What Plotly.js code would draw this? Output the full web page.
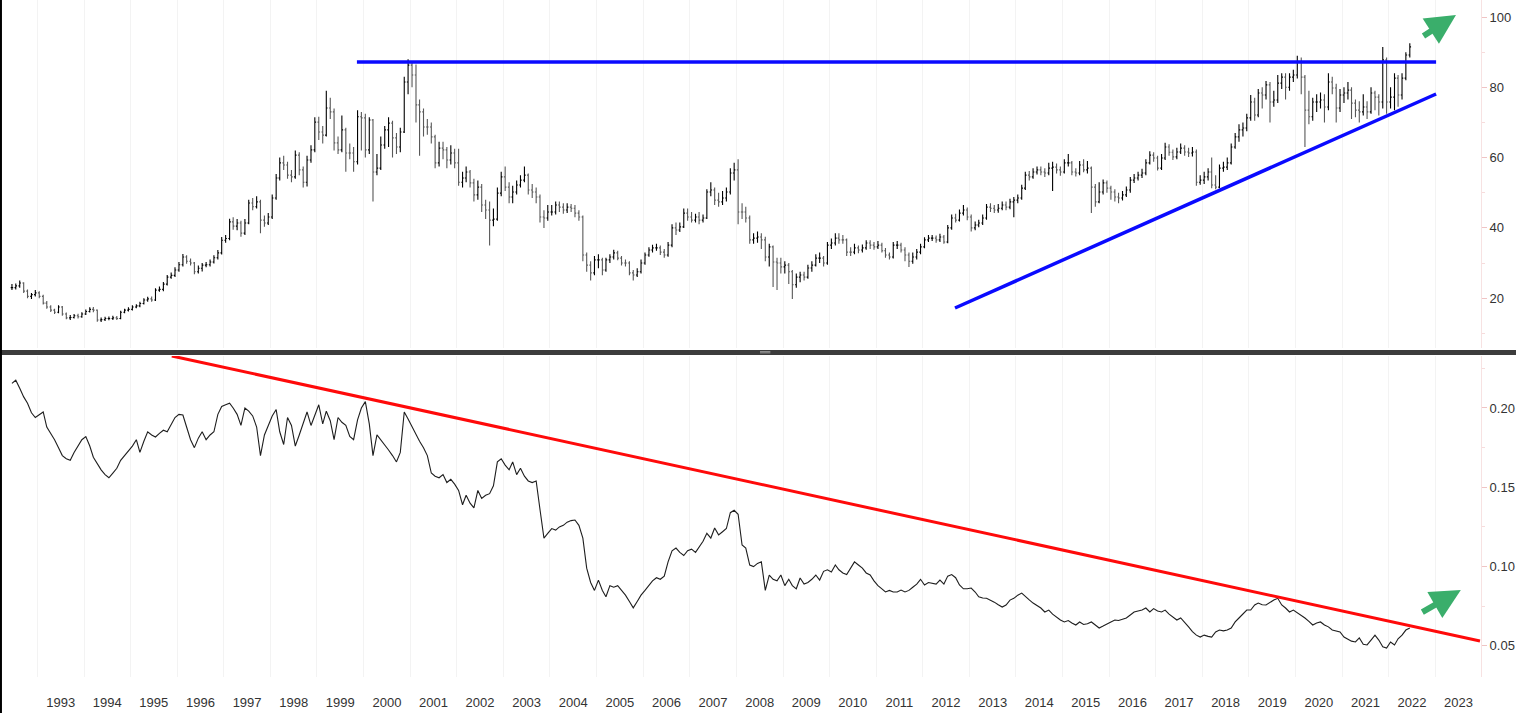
<!DOCTYPE html>
<html>
<head>
<meta charset="utf-8">
<script src="https://cdn.plot.ly/plotly-3.0.1.min.js"></script>
<style>
html,body{margin:0;padding:0;background:#fff;}
#chart{width:1516px;height:713px;}
</style>
</head>
<body>
<div id="chart"></div>
<script>
// monthly bars, first bar = June 1992
let firstYear = 1992;
let firstMonth = 6;

let closes = [
23, 23.5, 24.3, 22, 20.5, 21, 21.5,
20.5, 18.6, 17.5, 16.6, 16, 17.5, 15.5, 14.4, 14.5, 15, 14.7, 15.5,
16.2, 16.8, 16.6, 13.8, 13.9, 14.2, 14.2, 14.4, 14.2, 16, 16.6, 16.8,
17.5, 17.8, 18.5, 19.5, 19.8, 19.5, 22.3, 22.5, 24, 26, 26.5, 28,
29.5, 31.7, 30.5, 30, 27.5, 28.5, 29.4, 29.5, 30.3, 31.5, 32.9, 36.5,
37, 41.7, 40.5, 41.4, 38.5, 41.4, 47.1, 46, 47.4, 42.2, 41.4, 43.1,
48.5, 54.2, 58.5, 57.9, 55, 54.5, 60.7, 56.5, 53, 59.3, 62.2, 70.1,
67.3, 66.4, 74.1, 73, 64.2, 62.2, 67.9, 61.3, 61.3, 58.8, 71.6, 71.3,
62.2, 70.7, 55.9, 57, 63.6, 67.9, 69.8, 65.6, 63, 67.3, 81.5, 86.3,
83.5, 75, 73, 68.7, 68.7, 65.9, 58.5, 62.7, 62.2, 59.3, 61.3, 58.5,
53, 54.2, 55.9, 52.8, 49.4, 51.6, 46.5, 45.1, 42.2, 42.5, 49.9, 54.5,
51.6, 48.8, 50.2, 52.2, 53.6, 55, 50.8, 50.2, 48.8, 43.1, 42.8, 44.5,
44.5, 46.5, 45.9, 45.1, 45.9, 45.6, 44.2, 43.1, 32.3, 29.4, 27.2, 30.9,
30.9, 28, 30.9, 31.7, 32.9, 31.4, 30, 30, 27.2, 26.6, 27.5, 30,
32.3, 33.7, 34.3, 34.3, 33.1, 32.3, 35.1, 40, 39.4, 40.3, 44.2, 43.1,
42.2, 43.1, 42.2, 42.8, 50.2, 50.8, 47.9, 47.4, 48.5, 50.2, 55.6, 56.5,
44.5, 44.5, 42.8, 36.6, 37.1, 37.4, 36.6, 31.7, 34.6, 30.3, 30, 28.9,
29.4, 27.5, 23.8, 26, 26.6, 26, 28.6, 29.4, 31.4, 31.4, 30, 35.1,
35.7, 37.1, 36.6, 36.6, 33.1, 33.1, 34.3, 33.7, 34.3, 35.7, 35.1, 34.6,
35.1, 33.5, 32.3, 31.7, 35.1, 35.1, 33.7, 32.3, 30.5, 31.7, 33.1, 34.6,
36.6, 37.1, 37.1, 36.6, 37.4, 36, 40, 42.8, 42.2, 44.2, 45.1, 43.1,
40, 40.8, 41.4, 42.8, 45.9, 45.6, 45.1, 45.6, 46.5, 45.9, 47.4, 47.9,
48.5, 51.3, 55, 54.5, 55.9, 56.5, 55.9, 55.6, 57, 57.3, 56.5, 55.9,
58.5, 58.5, 55.9, 55.6, 57.9, 56.5, 57, 51.6, 47.4, 50.2, 52.8, 51.3,
50.2, 48.8, 48.5, 49.4, 50.8, 53.6, 54.2, 55, 55.6, 58.5, 60.7, 59.9,
57, 59.9, 63, 61.5, 60.2, 61.6, 62.7, 61.6, 61.3, 61.6, 53, 53.6,
54.5, 55.9, 52.2, 51.6, 57, 57.3, 58.5, 63, 65.9, 67.9, 68.4, 71.3,
75.8, 72.1, 78.4, 77.8, 80.7, 75.8, 76.4, 81.2, 82.9, 80, 82.9, 83.5,
87.2, 82.9, 73.5, 71.6, 75.8, 75.8, 76.4, 74.4, 81.5, 79.8, 74.1, 77.8,
78.4, 79.2, 75.5, 73.5, 73, 74.4, 73, 78.4, 77.2, 75.8, 87.8, 75.8,
77.2, 82.6, 77.8, 82.6, 89.2, 91.5
];

let highs = [
24, 24.2, 25, 24.5, 22.5, 21.5, 22.3,
22, 21, 19.2, 18, 17, 18, 17.8, 15.9, 15.2, 15.5, 15.6, 16,
16.8, 17.4, 17.5, 16.8, 14.5, 14.7, 14.8, 15, 14.9, 16.4, 17, 17.4,
18, 18.3, 19, 20, 20.4, 20.5, 22.8, 23.3, 24.6, 26.6, 27.3, 28.8,
30.3, 32.6, 32.2, 31.3, 30.3, 29.3, 30, 30.3, 31, 32.2, 33.7, 37.4,
38, 42.6, 43, 42.5, 42, 42.5, 48, 48.5, 49, 48, 43.5, 44.2,
49.5, 55.3, 60, 60.5, 58.8, 56.5, 62, 61.5, 57.5, 60.5, 63.5, 71.5,
71.6, 69, 79, 77, 74, 66, 72, 68.5, 64, 63, 73.5, 73,
72.5, 71.5, 71, 61, 66, 69, 71.5, 70.5, 67, 68.5, 83, 88,
87.5, 86.5, 76.5, 74, 71, 70, 66.5, 64.5, 64.5, 63, 63.5, 62.5,
62.5, 56, 57.5, 56.5, 54, 53.5, 52.5, 48, 47.5, 45.5, 51.5, 56,
57.5, 53, 52, 53.5, 55, 57.5, 55.5, 52.5, 51.5, 49.5, 45, 46.5,
46.5, 47.5, 47.5, 47, 47, 46.8, 46.5, 45, 43.5, 33, 30.5, 32,
32.5, 31.5, 31.5, 32.5, 33.8, 33.5, 32, 31, 30.5, 28, 28.5, 31,
33, 34.5, 35.2, 35.5, 35, 34, 36, 41, 41.5, 41.5, 45.5, 45.5,
44.5, 44, 44.5, 43.8, 51, 53, 51.5, 50, 50.5, 51.5, 57, 58.5,
59.5, 47, 46, 43.5, 38.5, 39, 38.5, 37.5, 35.5, 35, 31.5, 31.5,
30.5, 30, 28, 27, 27.5, 27.5, 29.5, 30.5, 32.5, 33, 32, 36,
37, 38.5, 38.5, 38, 37, 34.5, 35.5, 35, 35.3, 36.5, 36.5, 36,
36.3, 35.8, 34.3, 33, 36, 36.3, 35.8, 34.5, 33, 33, 34, 35.5,
37.3, 38, 38, 37.8, 38.3, 38, 40.8, 43.8, 44, 45.2, 46.5, 45.8,
43.8, 41.8, 42.3, 43.8, 46.8, 47, 46.5, 46.8, 47.5, 47.5, 48.3, 48.8,
49.5, 52.3, 56, 56.2, 57, 57.5, 57.5, 57, 58.5, 58.8, 58.3, 57.5,
59.5, 61, 59, 57, 59, 59.5, 59, 57.5, 52.5, 53, 53.8, 53.5,
52, 51, 50, 50.5, 51.8, 54.5, 55.3, 56, 56.8, 59.5, 61.8, 61.5,
60.5, 61, 64.2, 63.8, 62.3, 62.8, 64, 63.5, 62.8, 63, 62.3, 55,
56, 57, 60, 55, 58, 58.8, 60, 64, 67, 69.5, 70, 72.5,
77.8, 77, 79.5, 80, 81.8, 81.5, 79, 83.5, 84, 84, 84, 85,
89, 88.5, 83.5, 79, 77, 78, 78.5, 78, 84, 83, 81, 79.5,
80, 81.5, 80, 76.5, 76, 78, 76, 80, 79, 78, 91.5, 88.5,
80, 84, 83.5, 84, 90, 92.5
];

let lows = [
22.3, 22.5, 23, 21.5, 20, 19.8, 20.5,
20, 18.2, 17, 16.1, 15.5, 15.7, 15, 14, 13.8, 14.2, 14.2, 14.4,
15.2, 15.9, 16, 13.3, 13.2, 13.5, 13.7, 13.8, 13.8, 14, 15.7, 16.2,
16.5, 17.1, 17.4, 18.2, 19, 19, 19.2, 21.8, 22, 23.6, 25.5, 26,
27.5, 29, 29.8, 29.3, 26.8, 27, 27.6, 28.8, 29, 29.9, 31, 32.4,
35.8, 36.5, 39.5, 39.3, 37.5, 38, 41, 45, 45.5, 38.5, 40.3, 40.8,
42.5, 48, 53.5, 56.5, 54, 53, 54, 55, 51.5, 51.8, 58.5, 61.5,
65, 64, 66, 71, 62, 61, 61.5, 56, 59.5, 56, 58, 62,
60, 61, 47.5, 55, 56.5, 62.5, 63, 60, 61, 61.5, 67, 78,
80, 70, 60.5, 66, 66.5, 64, 57, 57.5, 59.5, 57, 58, 57,
52, 51.5, 53, 51.5, 47.5, 48, 44.5, 42.5, 35, 40.5, 42, 49,
50.5, 47, 47, 49.5, 51.5, 53, 49.5, 48.5, 47, 41.5, 40, 42,
43.5, 43.8, 44.5, 44, 44.2, 44.5, 43, 42, 30.5, 27.5, 25, 26.5,
28.5, 26.5, 27.5, 30, 31, 30.8, 29.3, 29, 26.5, 25, 26, 27,
29.5, 31.8, 33, 33.5, 32.3, 31.5, 31.8, 34.5, 38, 38.8, 40, 42,
41.5, 41.5, 41, 41.5, 42.5, 49, 46.5, 46, 46.5, 47.5, 49.5, 53.5,
41, 42.5, 41.5, 35.5, 35.5, 35.8, 34, 30.5, 29, 23.2, 22.3, 27,
27, 24, 19.8, 23, 24.5, 25, 25.5, 27.5, 29, 30, 29, 29.5,
34, 35, 35.5, 35.5, 32, 32, 32.5, 32.8, 33, 33.8, 34, 33.8,
34, 33, 31.5, 31, 31.3, 34, 33, 30.5, 28.9, 29.8, 31, 32.5,
34.2, 36, 36.3, 35.8, 36, 35.5, 35.6, 39.5, 41.5, 41.8, 43.5, 42.2,
39, 39.3, 40.2, 40.8, 42.3, 44.5, 44.2, 44.3, 45, 45, 45.3, 43,
47, 48, 50.8, 53.5, 54, 55.2, 55, 54.5, 55, 50.5, 55.5, 54.8,
55.5, 57.5, 55, 54.6, 55, 55.8, 55.5, 44.2, 46, 47, 49.5, 50,
48, 47.5, 47, 47.8, 48.8, 50, 52.8, 53.5, 54.2, 55, 58, 58.8,
56.3, 56.5, 59.3, 60.5, 59.3, 59.5, 61, 60.5, 60.2, 60.3, 52, 52.3,
52.5, 53.5, 51.3, 51, 51.3, 56, 56.5, 58, 62.5, 64.5, 66, 67.5,
70.5, 70.5, 71.5, 74, 76.5, 70, 74.5, 75.5, 79.5, 76.5, 79, 81.5,
82.5, 78, 63, 69.5, 70.5, 73, 74, 70, 73.5, 78, 70, 73,
75.5, 76.5, 71, 71.5, 70, 72, 71, 72.5, 73.5, 72, 74, 72.5,
74, 73.5, 74.5, 76.5, 82, 88.5
];

let ratio = [
.2155, .2175, .2125, .207, .203, .197, .194,
.196, .1975, .188, .184, .18, .175, .170, .168, .167, .172, .176, .180,
.182, .176, .169, .165, .161, .158, .156, .159, .162, .167, .170, .173,
.176, .180, .172, .179, .185, .183, .1817, .184, .186, .185, .190, .194,
.196, .1956, .188, .180, .175, .181, .185, .180, .183, .185, .196, .201,
.202, .203, .200, .196, .189, .200, .198, .195, .188, .170, .183, .189,
.195, .199, .185, .177, .194, .189, .176, .183, .190, .1975, .189, .195,
.202, .190, .198, .192, .180, .194, .191, .189, .182, .180, .1925, .200,
.204, .190, .170, .183, .180, .177, .1735, .170, .166, .172, .1975, .193,
.188, .184, .179, .175, .170, .159, .157, .156, .158, .153, .155, .152,
.148, .139, .145, .140, .137, .148, .143, .145, .146, .151, .166, .168,
.164, .161, .166, .158, .162, .157, .154, .153, .154, .136, .118, .121,
.124, .123, .125, .126, .128, .129, .1294, .126, .118, .099, .090, .085,
.0915, .085, .081, .088, .087, .088, .085, .082, .078, .074, .078, .082,
.085, .088, .091, .093, .092, .094, .103, .110, .1117, .109, .107, .110,
.111, .109, .112, .116, .121, .118, .1243, .120, .122, .124, .134, .1355,
.133, .1136, .1117, .101, .100, .102, .103, .085, .0947, .092, .091, .0947,
.088, .092, .088, .086, .0928, .089, .090, .092, .0947, .0915, .097, .098,
.0966, .101, .098, .096, .095, .099, .103, .101, .099, .096, .0947, .091,
.088, .086, .084, .085, .084, .084, .0852, .084, .085, .087, .089, .092,
.0884, .090, .0895, .089, .0915, .089, .094, .095, .093, .0884, .086, .086,
.0865, .084, .081, .0802, .080, .079, .0776, .076, .0745, .0758, .0789, .080,
.082, .0833, .081, .079, .077, .0755, .0739, .0714, .0726, .070, .068, .0663,
.0651, .066, .0645, .0632, .0651, .0635, .064, .0651, .0632, .0613, .0625, .064,
.0651, .0663, .066, .0668, .0676, .0695, .0714, .072, .0726, .0739, .0714, .0735,
.072, .0714, .0726, .070, .068, .0663, .0676, .0651, .062, .059, .0568, .0556,
.0568, .056, .0556, .0588, .06, .0595, .06, .0613, .0651, .0676, .070, .0726,
.0726, .0758, .077, .076, .0758, .0776, .0789, .080, .0758, .0739, .0714, .0726,
.071, .0695, .0676, .0655, .0632, .0645, .0651, .0632, .062, .060, .0595, .0588,
.0556, .0545, .053, .0525, .055, .051, .0506, .0537, .0568, .0537, .0495, .0487,
.0525, .0506, .0545, .0568, .06, .0613
];

let yearLabels = ["1993","1994","1995","1996","1997","1998","1999","2000","2001","2002",
"2003","2004","2005","2006","2007","2008","2009","2010","2011","2012","2013","2014",
"2015","2016","2017","2018","2019","2020","2021","2022","2023"];

// drawn trend lines
let resistDates = ["1999-11-10", "2023-01-07"];
let resistVals = [87.2, 87.2];
let supportDates = ["2012-09-10", "2023-01-07"];
let supportVals = [17.2, 78.1];
let ratioTrendDates = ["1995-11-20", "2023-12-17"];
let ratioTrendVals = [0.2328, 0.0531];

let months = [];
for(let i = 0; i < closes.length; i++){
let d = new Date(Date.UTC(firstYear, firstMonth - 1 + i, 15));
months.push(d.toISOString().slice(0,10));
}
// each bar opens where the previous one closed
let opens = closes.map((c,i) => i ? closes[i-1] : c);

let tickDates = yearLabels.map(y => y + "-07-02");

let bars = {
type: "ohlc",
x: months, open: opens, high: highs, low: lows, close: closes,
xaxis: "x", yaxis: "y",
increasing: {line: {color: "#000000", width: 1.1}},
decreasing: {line: {color: "#585858", width: 1.1}},
tickwidth: 0.35,
hoverinfo: "skip"
};

let ratioLine = {
type: "scatter", mode: "lines",
x: months, y: ratio,
xaxis: "x", yaxis: "y2",
line: {color: "#1e1e1e", width: 1.1},
hoverinfo: "skip"
};

let blue = {color: "#0a0aff", width: 3.5};
let resist = {type:"scatter", mode:"lines", x: resistDates, y: resistVals, xaxis:"x", yaxis:"y", line: blue, hoverinfo:"skip"};
let support = {type:"scatter", mode:"lines", x: supportDates, y: supportVals, xaxis:"x", yaxis:"y", line: blue, hoverinfo:"skip"};
let ratioTrend = {type:"scatter", mode:"lines", x: ratioTrendDates, y: ratioTrendVals, xaxis:"x", yaxis:"y2", line:{color:"#ff0a0a", width:3}, hoverinfo:"skip"};

let yCommon = {
side: "right", anchor: "x",
showgrid: false, zeroline: false,
showline: true, linecolor: "#f7e2e2", linewidth: 1,
ticks: "outside", ticklen: 5, tickcolor: "#f0c4c4",
tickfont: {size: 13, color: "#333"},
fixedrange: true
};

let layout = {
width: 1516, height: 713,
margin: {l: 2, r: 35, t: 0, b: 36},
paper_bgcolor: "#ffffff", plot_bgcolor: "#ffffff",
showlegend: false,
font: {family: "Liberation Sans, Arial, sans-serif", size: 13, color: "#333"},
xaxis: {
type: "date", anchor: "y2",
range: ["1992-03-29", "2023-12-25"],
tickmode: "array", tickvals: tickDates, ticktext: yearLabels,
ticks: "", showgrid: false, zeroline: false, showline: false,
ticklabelstandoff: 16,
minor: {dtick: "M12", tick0: "1993-01-01", showgrid: true, gridcolor: "#f3f3f3", gridwidth: 1},
rangeslider: {visible: false},
fixedrange: true
},
yaxis: Object.assign({}, yCommon, {
domain: [0.486, 1], range: [5.83, 104.84],
tickvals: [20,40,60,80,100],
minor: {dtick: 10, tick0: 0, ticks: "outside", ticklen: 3, tickcolor: "#f7dcdc"}
}),
yaxis2: Object.assign({}, yCommon, {
domain: [0, 0.4742], range: [0.0304, 0.2328],
tickvals: [0.05,0.10,0.15,0.20], tickformat: ".2f",
minor: {dtick: 0.025, tick0: 0, ticks: "outside", ticklen: 3, tickcolor: "#f7dcdc"}
}),
shapes: [
// panel divider
{type:"rect", xref:"paper", yref:"paper", x0:-0.002, x1:1.03, y0:0.4756, y1:0.4830, fillcolor:"#3c3c3c", line:{width:0}, layer:"above"},
{type:"line", xref:"paper", yref:"paper", x0:0.5125, x1:0.5195, y0:0.4788, y1:0.4788, line:{color:"#9a9a9a", width:1}},
{type:"line", xref:"paper", yref:"paper", x0:0.5125, x1:0.5195, y0:0.4806, y1:0.4806, line:{color:"#9a9a9a", width:1}},
// left frame edge
{type:"line", xref:"paper", yref:"paper", x0:-0.0007, x1:-0.0007, y0:-0.06, y1:1, line:{color:"#000", width:2}}
],
annotations: [
{xref:"x", yref:"y", x:"2023-06-12", y:100.6, ax:-34, ay:22, text:"", showarrow:true,
arrowhead:2, arrowsize:1, arrowwidth:6, arrowcolor:"#3aae6b", standoff:0},
{xref:"x", yref:"y2", x:"2023-07-20", y:0.0852, ax:-40, ay:23, text:"", showarrow:true,
arrowhead:2, arrowsize:1, arrowwidth:6, arrowcolor:"#3aae6b", standoff:0}
]
};

Plotly.newPlot("chart", [bars, ratioLine, resist, support, ratioTrend], layout, {displayModeBar:false, staticPlot:true});
</script>
</body>
</html>
